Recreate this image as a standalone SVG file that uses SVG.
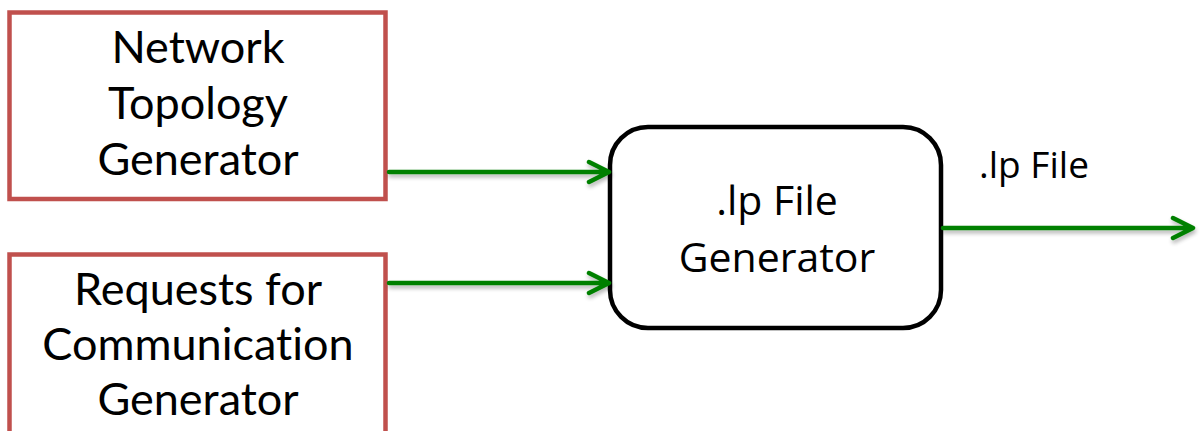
<svg xmlns="http://www.w3.org/2000/svg" width="1200" height="431" viewBox="0 0 1200 431">
  <style>
    .src { fill: #ffffff; stroke: #C0504D; stroke-width: 4.5; }
    .proc { fill: #ffffff; stroke: #000000; stroke-width: 4.5; }
    .lbl { font-family: "Lato", "Open Sans", sans-serif; font-size: 45px; fill: #000000; text-anchor: middle; font-variant-ligatures: none; }
    .lbl2 { font-family: "Open Sans", "Lato", sans-serif; font-size: 41px; fill: #000000; text-anchor: middle; }
    .edge { fill: none; stroke: #008000; stroke-width: 4.5; stroke-linecap: round; stroke-linejoin: round; }
  </style>
  <defs>
    <filter id="sh" x="-5%" y="-50%" width="110%" height="250%">
      <feGaussianBlur in="SourceAlpha" stdDeviation="2"/>
      <feOffset dx="1" dy="3" result="b"/>
      <feComponentTransfer><feFuncA type="linear" slope="0.3"/></feComponentTransfer>
      <feMerge><feMergeNode/><feMergeNode in="SourceGraphic"/></feMerge>
    </filter>
  </defs>
  <g id="node-topology">
    <rect class="src" x="9.5" y="12.5" width="376" height="186.5"/>
    <text class="lbl" x="198" y="63">Network</text>
    <text class="lbl" x="198" y="119">Topology</text>
    <text class="lbl" x="198" y="175">Generator</text>
  </g>
  <g id="node-requests">
    <rect class="src" x="9.5" y="254.5" width="376" height="200"/>
    <text class="lbl" x="198" y="305">Requests for</text>
    <text class="lbl" x="198" y="360">Communication</text>
    <text class="lbl" x="198" y="415">Generator</text>
  </g>
  <g id="node-lpgen">
    <rect class="proc" x="610" y="127" width="331" height="201" rx="38" ry="38"/>
    <text class="lbl2" x="777" y="215">.lp File</text>
    <text class="lbl2" x="777" y="272">Generator</text>
  </g>
  <g id="connectors" filter="url(#sh)">
    <path class="edge" d="M389 172 H608 M589 162 L609 172 L589 182"/>
    <path class="edge" d="M389 283 H608 M589 273 L609 283 L589 293"/>
    <path class="edge" d="M943 228 H1192 M1173 218 L1193 228 L1173 238"/>
  </g>
  <text class="lbl2" x="1034" y="178" style="font-size:37px">.lp File</text>
</svg>
